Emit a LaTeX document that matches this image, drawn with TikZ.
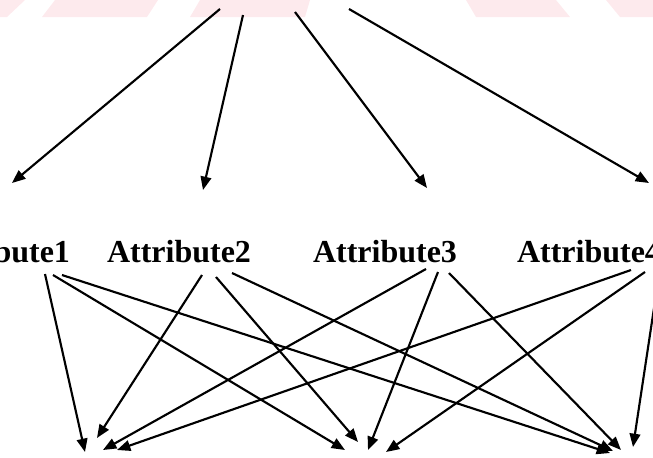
\documentclass[tikz,border=0pt]{standalone}
\usepackage{fontspec}
\setmainfont{Liberation Serif}
\usetikzlibrary{arrows.meta,calc}
\definecolor{markpink}{RGB}{253,234,237}
\tikzstyle{attr} = [font=\fontsize{24}{29}\selectfont\bfseries, inner sep=0pt, anchor=base]
\tikzstyle{link} = [draw, line width=1.6pt, -{Triangle[length=10pt, width=8pt]}]

\begin{document}
\begin{tikzpicture}[x=0.75pt, y=-0.75pt]
    % Page frame.
    \useasboundingbox (0,0) rectangle (653,457);
    \clip (0,0) rectangle (653,457);
    % Faint bands at the top.
    \fill [markpink] (0,0) -- (25,0) -- (7,17) -- (0,17) -- cycle;
    \fill [markpink] (55,0) -- (158,0) -- (147,17) -- (42,17) -- cycle;
    \fill [markpink] (200,0) -- (310,0) -- (305,17) -- (190,17) -- cycle;
    \fill [markpink] (466,0) -- (556,0) -- (570,17) -- (476,17) -- cycle;
    \fill [markpink] (606,0) -- (653,0) -- (653,17) -- (620,17) -- cycle;
    % Draw the attributes.
    \node [attr] (a1) at ( -2,262) {Attribute1};
    \node [attr] (a2) at (179,262) {Attribute2};
    \node [attr] (a3) at (385,262) {Attribute3};
    \node [attr] (a4) at (589,262) {Attribute4};
    % Ends of the upper arrows.
    \coordinate (r1) at (220, 9);
    \coordinate (r2) at (243,15);
    \coordinate (r3) at (295,12);
    \coordinate (r4) at (349, 9);
    \coordinate (t1) at ( 12,183);
    \coordinate (t2) at (203,190);
    \coordinate (t3) at (427,188);
    \coordinate (t4) at (649,183);
    % Ends of the lower arrows.
    \coordinate (lo1) at ( 85,452);
    \coordinate (lo2) at ( 97,438);
    \coordinate (lo3) at (103,450);
    \coordinate (lo4) at (117,450);
    \coordinate (mid1) at (345,450);
    \coordinate (mid2) at (358,442);
    \coordinate (mid3) at (368,450);
    \coordinate (mid4) at (386,452);
    \coordinate (ro1) at (610,453);
    \coordinate (ro2) at (613,451);
    \coordinate (ro3) at (621,450);
    \coordinate (ro4) at (633,447);
    % Upper arrows.
    \path [link] (r1) -- (t1);
    \path [link] (r2) -- (t2);
    \path [link] (r3) -- (t3);
    \path [link] (r4) -- (t4);
    % Attribute1.
    \path [link] ($(a1.base)+(47,12)$) -- (lo1);
    \path [link] ($(a1.base)+(55,13)$) -- (mid1);
    \path [link] ($(a1.base)+(64,13)$) -- (ro1);
    % Attribute2.
    \path [link] ($(a2.base)+(23,13)$) -- (lo2);
    \path [link] ($(a2.base)+(37,15)$) -- (mid2);
    \path [link] ($(a2.base)+(53,11)$) -- (ro2);
    % Attribute3.
    \path [link] ($(a3.base)+(41, 7)$) -- (lo3);
    \path [link] ($(a3.base)+(53,10)$) -- (mid3);
    \path [link] ($(a3.base)+(64,11)$) -- (ro3);
    % Attribute4.
    \path [link] ($(a4.base)+(42, 8)$) -- (lo4);
    \path [link] ($(a4.base)+(56,10)$) -- (mid4);
    \path [link] ($(a4.base)+(70,13)$) -- (ro4);
\end{tikzpicture}
\end{document}
